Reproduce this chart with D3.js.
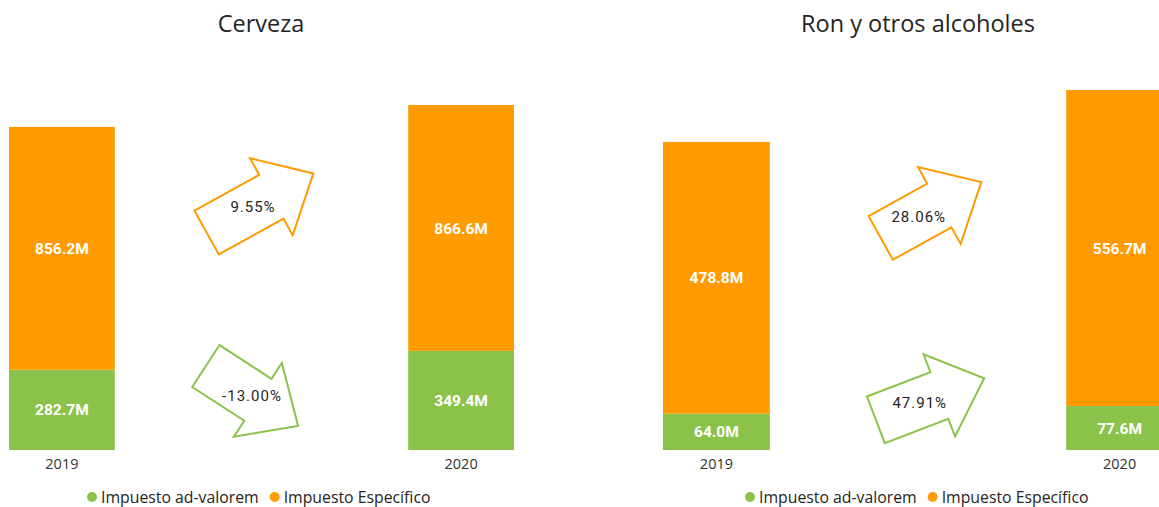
<!DOCTYPE html>
<html>
<head>
<meta charset="utf-8">
<script src="https://cdn.jsdelivr.net/npm/d3@7"></script>
<style>
  body { margin: 0; background: #fff; }
  svg { display: block; }
</style>
</head>
<body>
<svg width="1159" height="507"></svg>
<script>
// data
const years = ["2019", "2020"];
const seriesNames = ["Impuesto ad-valorem", "Impuesto Específico"];
const cervezaAdValorem = [282.7, 349.4];
const cervezaEspecifico = [856.2, 866.6];
const ronAdValorem = [64.0, 77.6];
const ronEspecifico = [478.8, 556.7];
// % change shown in arrows: [específico, ad-valorem]
const cervezaChange = [9.55, -13.00];
const ronChange = [28.06, 47.91];

const green = "#8bc34a";
const orange = "#ff9b00";

let width = 1159;
let height = 507;
let svg = d3.select("svg");

let panels = [
  {
    title: "Cerveza", titleX: 261,
    adv: cervezaAdValorem, esp: cervezaEspecifico, change: cervezaChange,
    xRange: [9, 514], yTop: 105,
    arrows: [
      { cx: 260, cy: 203, angle: -29, len: 122, shift: -8 },
      { cx: 252, cy: 396, angle: 33, len: 110, shift: 0 }
    ],
    legendX: 92
  },
  {
    title: "Ron y otros alcoholes", titleX: 918,
    adv: ronAdValorem, esp: ronEspecifico, change: ronChange,
    xRange: [663, 1173], yTop: 90,
    arrows: [
      { cx: 931, cy: 210, angle: -29, len: 115, shift: -14 },
      { cx: 930, cy: 399, angle: -21, len: 116, shift: -11 }
    ],
    legendX: 750
  }
];

let fmt = d => d.toFixed(1) + "M";

panels.forEach(p => {
  let g = svg.append("g");

  let rows = years.map((y, i) => ({ year: y, adv: p.adv[i], esp: p.esp[i] }));
  let stacked = d3.stack().keys(["adv", "esp"])(rows);

  let x = d3.scaleBand()
    .domain(years)
    .range(p.xRange)
    .paddingInner(0.735)
    .paddingOuter(0);

  let y = d3.scaleLinear()
    .domain([0, d3.max(rows, d => d.adv + d.esp)])
    .range([450, p.yTop]);

  g.append("text")
    .attr("x", p.titleX)
    .attr("y", 32)
    .attr("text-anchor", "middle")
    .style("font-family", "'Open Sans', sans-serif")
    .style("font-size", "23.5px")
    .style("fill", "#252423")
    .text(p.title);

  let colors = [green, orange];

  stacked.forEach((layer, li) => {
    g.selectAll(".seg-" + li)
      .data(layer)
      .join("rect")
      .attr("x", d => x(d.data.year))
      .attr("y", d => y(d[1]))
      .attr("width", x.bandwidth())
      .attr("height", d => y(d[0]) - y(d[1]))
      .style("fill", colors[li]);

    g.selectAll(".lab-" + li)
      .data(layer)
      .join("text")
      .attr("x", d => x(d.data.year) + x.bandwidth() / 2)
      .attr("y", d => (y(d[0]) + y(d[1])) / 2)
      .attr("dy", "0.36em")
      .attr("text-anchor", "middle")
      .style("font-family", "Roboto, sans-serif")
      .style("font-weight", "700")
      .style("font-size", "15.5px")
      .style("fill", "#fff")
      .text(d => fmt(d[1] - d[0]));
  });

  // x axis labels, no line
  let xAxis = g.append("g")
    .attr("transform", "translate(0,450)")
    .call(d3.axisBottom(x).tickSize(0).tickPadding(9));
  xAxis.select(".domain").remove();
  xAxis.selectAll("text")
    .style("font-family", "'Open Sans', sans-serif")
    .style("font-size", "14.5px")
    .style("fill", "#333");

  // arrows
  p.arrows.forEach((a, i) => {
    let L = a.len, H = 48, sw = 25, hw = 44;
    let pts = [[-L / 2, -sw], [L / 2 - H, -sw], [L / 2 - H, -hw], [L / 2, 0],
               [L / 2 - H, hw], [L / 2 - H, sw], [-L / 2, sw]];
    let col = i === 0 ? orange : green;
    let ag = g.append("g")
      .attr("transform", "translate(" + a.cx + "," + a.cy + ") rotate(" + a.angle + ")");
    ag.append("polygon")
      .attr("points", pts.map(q => q.join(",")).join(" "))
      .style("fill", "#fff")
      .style("stroke", col)
      .style("stroke-width", 2);
    let rad = a.angle * Math.PI / 180;
    g.append("text")
      .attr("x", a.cx + a.shift * Math.cos(rad))
      .attr("y", a.cy + a.shift * Math.sin(rad))
      .attr("dy", "0.36em")
      .attr("text-anchor", "middle")
      .style("font-family", "Roboto, sans-serif")
      .style("font-size", "15px")
      .style("letter-spacing", "1px")
      .style("fill", "#252423")
      .text(p.change[i].toFixed(2) + "%");
  });

  // legend
  let lg = g.append("g").attr("transform", "translate(" + p.legendX + ",497)");
  let off = 0;
  seriesNames.forEach((name, i) => {
    let item = lg.append("g").attr("transform", "translate(" + off + ",0)");
    item.append("circle").attr("r", 5).style("fill", colors[i]);
    let t = item.append("text")
      .attr("x", 9)
      .attr("dy", "0.36em")
      .style("font-family", "'Open Sans', sans-serif")
      .style("font-size", "15.8px")
      .style("fill", "#252423")
      .text(name);
    off += 9 + t.node().getComputedTextLength() + 16;
  });
});
</script>
</body>
</html>
